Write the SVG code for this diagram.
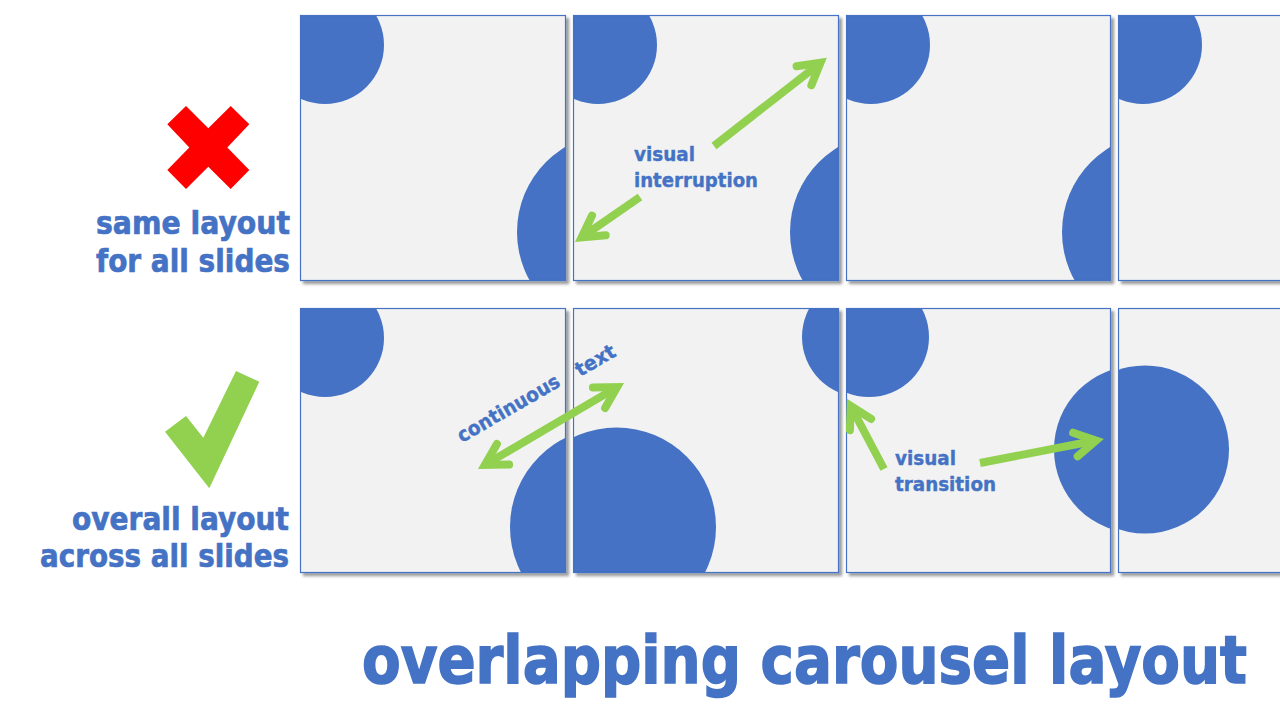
<svg xmlns="http://www.w3.org/2000/svg" width="1280" height="720" viewBox="0 0 1280 720">
  <style>
    .panel { fill: #F2F2F2; }
    .border { fill: none; stroke: #4472C4; stroke-width: 1.2; }
    .dot { fill: #4472C4; }
    .lbl { font-family: "DejaVu Sans", Verdana, sans-serif; font-weight: bold; fill: #4472C4; stroke: #4472C4; }
    .big { font-size: 32px; stroke-width: 0.7; }
    .small { font-size: 20px; stroke-width: 0.4; }
    .title { font-size: 66px; stroke-width: 1.6; }
    .arrow { fill: none; stroke: #92D050; stroke-width: 8; stroke-linecap: butt; }
  </style>
  <defs>
    <filter id="shadow" x="-5%" y="-5%" width="115%" height="115%">
      <feDropShadow dx="3" dy="3" stdDeviation="1.5" flood-color="#000000" flood-opacity="0.4"/>
    </filter>
    <marker id="ah" markerUnits="userSpaceOnUse" orient="auto-start-reverse" refX="0" refY="0" markerWidth="40" markerHeight="40" viewBox="-30 -20 40 40" overflow="visible">
      <path d="M-21,-12 L0,0 L-21,12" fill="none" stroke="#92D050" stroke-width="8" stroke-linecap="round" stroke-linejoin="miter"/>
    </marker>
    <clipPath id="t1"><rect x="300" y="15" width="266" height="266"/></clipPath>
    <clipPath id="t2"><rect x="573" y="15" width="266" height="266"/></clipPath>
    <clipPath id="t3"><rect x="846" y="15" width="265" height="266"/></clipPath>
    <clipPath id="t4"><rect x="1118" y="15" width="266" height="266"/></clipPath>
    <clipPath id="b1"><rect x="300" y="308" width="266" height="265"/></clipPath>
    <clipPath id="b2"><rect x="573" y="308" width="266" height="265"/></clipPath>
    <clipPath id="b3"><rect x="846" y="308" width="265" height="265"/></clipPath>
    <clipPath id="b4"><rect x="1118" y="308" width="266" height="265"/></clipPath>
  </defs>
  <rect width="1280" height="720" fill="#FFFFFF"/>

  <!-- top row: same layout -->
  <g id="slide-top-1" filter="url(#shadow)">
    <rect class="panel" x="300" y="15" width="266" height="266"/>
    <g clip-path="url(#t1)">
      <circle class="dot" cx="325" cy="45" r="59"/>
      <circle class="dot" cx="616" cy="232" r="99"/>
    </g>
    <rect class="border" x="300.5" y="15.5" width="265" height="265"/>
  </g>
  <g id="slide-top-2" filter="url(#shadow)">
    <rect class="panel" x="573" y="15" width="266" height="266"/>
    <g clip-path="url(#t2)">
      <circle class="dot" cx="598" cy="45" r="59"/>
      <circle class="dot" cx="889" cy="232" r="99"/>
    </g>
    <rect class="border" x="573.5" y="15.5" width="265" height="265"/>
  </g>
  <g id="slide-top-3" filter="url(#shadow)">
    <rect class="panel" x="846" y="15" width="265" height="266"/>
    <g clip-path="url(#t3)">
      <circle class="dot" cx="871" cy="45" r="59"/>
      <circle class="dot" cx="1161" cy="232" r="99"/>
    </g>
    <rect class="border" x="846.5" y="15.5" width="264" height="265"/>
  </g>
  <g id="slide-top-4" filter="url(#shadow)">
    <rect class="panel" x="1118" y="15" width="266" height="266"/>
    <g clip-path="url(#t4)">
      <circle class="dot" cx="1143" cy="45" r="59"/>
    </g>
    <rect class="border" x="1118.5" y="15.5" width="265" height="265"/>
  </g>

  <!-- bottom row: overall layout -->
  <g id="slide-bottom-1" filter="url(#shadow)">
    <rect class="panel" x="300" y="308" width="266" height="265"/>
    <g clip-path="url(#b1)">
      <circle class="dot" cx="325" cy="338" r="59"/>
      <circle class="dot" cx="609.5" cy="527" r="99.5"/>
    </g>
    <rect class="border" x="300.5" y="308.5" width="265" height="264"/>
  </g>
  <g id="slide-bottom-2" filter="url(#shadow)">
    <rect class="panel" x="573" y="308" width="266" height="265"/>
    <g clip-path="url(#b2)">
      <circle class="dot" cx="616.5" cy="527" r="99.5"/>
      <circle class="dot" cx="862" cy="337" r="60"/>
    </g>
    <rect class="border" x="573.5" y="308.5" width="265" height="264"/>
  </g>
  <g id="slide-bottom-3" filter="url(#shadow)">
    <rect class="panel" x="846" y="308" width="265" height="265"/>
    <g clip-path="url(#b3)">
      <circle class="dot" cx="869" cy="337" r="60"/>
      <circle class="dot" cx="1138" cy="449.5" r="84"/>
    </g>
    <rect class="border" x="846.5" y="308.5" width="264" height="264"/>
  </g>
  <g id="slide-bottom-4" filter="url(#shadow)">
    <rect class="panel" x="1118" y="308" width="266" height="265"/>
    <g clip-path="url(#b4)">
      <circle class="dot" cx="1145" cy="449.5" r="84"/>
    </g>
    <rect class="border" x="1118.5" y="308.5" width="265" height="264"/>
  </g>

  <!-- cross mark -->
  <g id="cross-mark">
    <polygon fill="#FF0000" points="186,106 208.3,128.3 230.7,106 249.3,124.3 227.3,147.5 249.3,170 230.7,189 208.3,166.7 186,189 167.3,170 189.3,147.5 167.3,124.3"/>
  </g>
  <!-- check mark -->
  <g id="check-mark">
    <polygon fill="#92D050" points="165,431.7 186,416 203.3,437.7 236,371 259.3,381.7 209.3,488.3"/>
  </g>

  <!-- left labels -->
  <g id="label-same">
    <text class="lbl big" x="96" y="234" textLength="194" lengthAdjust="spacingAndGlyphs">same layout</text>
    <text class="lbl big" x="96" y="272" textLength="194" lengthAdjust="spacingAndGlyphs">for all slides</text>
  </g>
  <g id="label-overall">
    <text class="lbl big" x="72" y="530" textLength="217" lengthAdjust="spacingAndGlyphs">overall layout</text>
    <text class="lbl big" x="40" y="567" textLength="249" lengthAdjust="spacingAndGlyphs">across all slides</text>
  </g>

  <!-- annotation labels -->
  <g id="label-interruption">
    <text class="lbl small" x="634" y="161" textLength="61" lengthAdjust="spacingAndGlyphs">visual</text>
    <text class="lbl small" x="634" y="187" textLength="124" lengthAdjust="spacingAndGlyphs">interruption</text>
  </g>
  <g id="label-transition">
    <text class="lbl small" x="895" y="465" textLength="61" lengthAdjust="spacingAndGlyphs">visual</text>
    <text class="lbl small" x="895" y="491" textLength="101" lengthAdjust="spacingAndGlyphs">transition</text>
  </g>
  <g id="label-continuous">
    <text class="lbl small" transform="translate(462,443) rotate(-30)" x="0" y="0" textLength="115" lengthAdjust="spacingAndGlyphs">continuous</text>
    <text class="lbl small" transform="translate(580,377) rotate(-30)" x="0" y="0" textLength="43" lengthAdjust="spacingAndGlyphs">text</text>
  </g>

  <!-- connectors -->
  <g id="connectors">
    <line class="arrow" x1="714" y1="146" x2="820.5" y2="62.8" marker-end="url(#ah)"/>
    <line class="arrow" x1="640" y1="197" x2="581.6" y2="237.4" marker-end="url(#ah)"/>
    <line class="arrow" x1="484.9" y1="464.9" x2="617.1" y2="387.1" marker-start="url(#ah)" marker-end="url(#ah)"/>
    <line class="arrow" x1="884" y1="469" x2="850.7" y2="406" marker-end="url(#ah)"/>
    <line class="arrow" x1="980" y1="463" x2="1096" y2="440.5" marker-end="url(#ah)"/>
  </g>

  <!-- title -->
  <g id="title">
    <text class="lbl title" transform="translate(362,683) scale(0.851,1)" x="0" y="0" textLength="1040" lengthAdjust="spacingAndGlyphs">overlapping carousel layout</text>
  </g>
</svg>
